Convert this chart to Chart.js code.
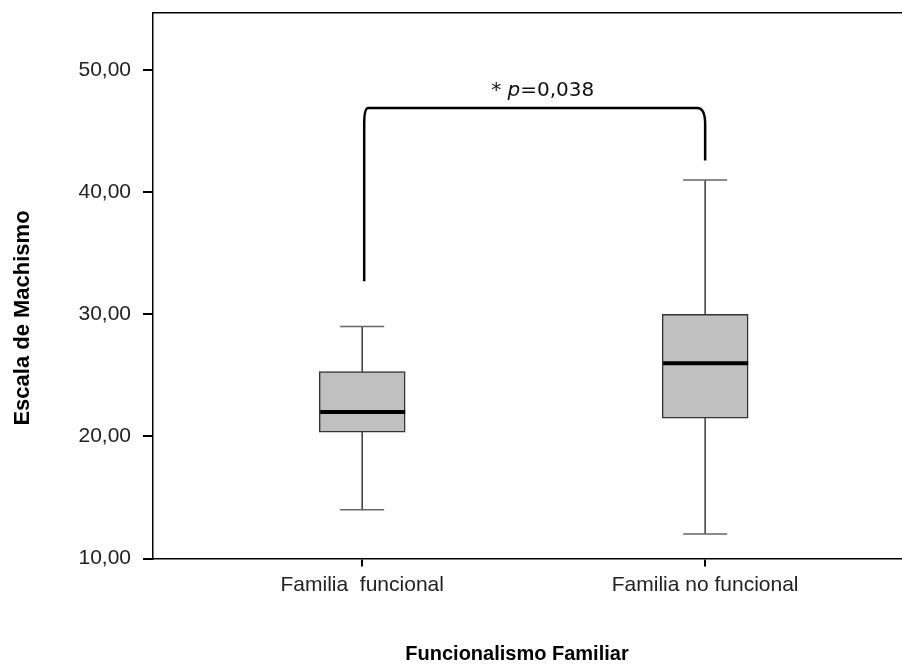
<!DOCTYPE html>
<html>
<head>
<meta charset="utf-8">
<script src="https://cdn.jsdelivr.net/npm/chart.js@4.4.1/dist/chart.umd.min.js"></script>
<style>html,body{margin:0;padding:0;background:#fff}</style>
</head>
<body>
<canvas id="chart" width="902" height="664"></canvas>
<script>
// datos del diagrama de caja
const categories = ['Familia  funcional', 'Familia no funcional'];
const positions = [1, 2];
const whiskerLow = [14.0, 12.0];
const q1 = [20.35, 21.5];
const median = [22.0, 26.0];
const q3 = [25.3, 30.0];
const whiskerHigh = [29.0, 41.0];
const yTicks = [10, 20, 30, 40, 50];

// corchete de significacion
const bracketTop = 46.9;
const bracketEnds = [32.7, 42.6];
const pParts = [['* ', 'normal'], ['p', 'italic'], ['=0,038', 'normal']];

const yTitle = 'Escala de Machismo';
const xTitle = 'Funcionalismo Familiar';

const boxExtras = {
  id: 'boxExtras',
  afterDatasetsDraw(chart) {
    const {ctx, chartArea, scales: {x, y}} = chart;
    ctx.save();

    // linea superior del marco
    ctx.strokeStyle = '#000';
    ctx.lineWidth = 1.5;
    ctx.beginPath();
    ctx.moveTo(chartArea.left, chartArea.top);
    ctx.lineTo(chartArea.right, chartArea.top);
    ctx.stroke();

    // bigotes y mediana
    const bars = chart.getDatasetMeta(0).data;
    positions.forEach((pos, i) => {
      const px = x.getPixelForValue(pos);
      const cap = 22;
      ctx.strokeStyle = '#3a3a3a';
      ctx.lineWidth = 1.5;
      ctx.beginPath();
      ctx.moveTo(px, y.getPixelForValue(q3[i]));
      ctx.lineTo(px, y.getPixelForValue(whiskerHigh[i]));
      ctx.moveTo(px, y.getPixelForValue(q1[i]));
      ctx.lineTo(px, y.getPixelForValue(whiskerLow[i]));
      ctx.stroke();
      ctx.strokeStyle = '#666';
      ctx.beginPath();
      ctx.moveTo(px - cap, y.getPixelForValue(whiskerHigh[i]));
      ctx.lineTo(px + cap, y.getPixelForValue(whiskerHigh[i]));
      ctx.moveTo(px - cap, y.getPixelForValue(whiskerLow[i]));
      ctx.lineTo(px + cap, y.getPixelForValue(whiskerLow[i]));
      ctx.stroke();

      const bar = bars[i];
      const ym = y.getPixelForValue(median[i]);
      ctx.strokeStyle = '#000';
      ctx.lineWidth = 4;
      ctx.beginPath();
      ctx.moveTo(bar.x - bar.width / 2 + 1, ym);
      ctx.lineTo(bar.x + bar.width / 2, ym);
      ctx.stroke();
    });

    // corchete
    const lx = x.getPixelForValue(positions[0]) + 2;
    const rx = x.getPixelForValue(positions[1]);
    const yT = y.getPixelForValue(bracketTop);
    const r = 8;
    ctx.strokeStyle = '#000';
    ctx.lineWidth = 2.5;
    ctx.beginPath();
    ctx.moveTo(lx, y.getPixelForValue(bracketEnds[0]));
    ctx.lineTo(lx, yT + r * 2);
    ctx.quadraticCurveTo(lx, yT, lx + r / 2, yT);
    ctx.lineTo(rx - r, yT);
    ctx.quadraticCurveTo(rx, yT, rx, yT + r * 2);
    ctx.lineTo(rx, y.getPixelForValue(bracketEnds[1]));
    ctx.stroke();

    // texto p
    const fontFor = st => st + ' 20px "DejaVu Sans", sans-serif';
    let total = 0;
    pParts.forEach(([t, st]) => { ctx.font = fontFor(st); total += ctx.measureText(t).width; });
    let tx = (lx + rx) / 2 + 8 - total / 2;
    ctx.fillStyle = '#111';
    ctx.textBaseline = 'alphabetic';
    ctx.textAlign = 'left';
    pParts.forEach(([t, st]) => {
      ctx.font = fontFor(st);
      ctx.fillText(t, tx, yT - 12);
      tx += ctx.measureText(t).width;
    });

    // titulos de ejes
    ctx.fillStyle = '#000';
    ctx.font = 'bold 22px "Liberation Sans", Arial, sans-serif';
    ctx.textAlign = 'center';
    ctx.textBaseline = 'middle';
    ctx.save();
    ctx.translate(23, 318);
    ctx.rotate(-Math.PI / 2);
    ctx.fillText(yTitle, 0, 0);
    ctx.restore();
    ctx.font = 'bold 20px "Liberation Sans", Arial, sans-serif';
    ctx.fillText(xTitle, 517, 654);

    ctx.restore();
  }
};

const ctx = document.getElementById('chart').getContext('2d');
const chart = new Chart(ctx, {
  type: 'bar',
  data: {
    datasets: [{
      data: positions.map((p, i) => ({x: p, y: [q1[i], q3[i]]})),
      backgroundColor: '#c0c0c0',
      borderColor: '#333',
      borderWidth: 1.5,
      borderSkipped: false,
      barThickness: 86
    }]
  },
  options: {
    responsive: false,
    animation: false,
    devicePixelRatio: 1,
    layout: {padding: {top: 12.7, right: 0, bottom: 0, left: 0}},
    plugins: {legend: {display: false}, tooltip: {enabled: false}},
    scales: {
      x: {
        type: 'linear',
        min: 0.39,
        max: 2.574,
        offset: false,
        afterBuildTicks: s => { s.ticks = positions.map(v => ({value: v})); },
        afterFit: s => { s.height = 105.5; s.paddingLeft = 0; s.paddingRight = 0; },
        ticks: {
          callback: (v, i) => categories[i],
          font: {family: '"Liberation Sans", Arial, sans-serif', size: 21},
          color: '#222',
          padding: 6,
          maxRotation: 0,
          autoSkip: false
        },
        grid: {offset: false, drawOnChartArea: false, drawTicks: true, tickLength: 8, color: '#000', lineWidth: 2},
        border: {color: '#000', width: 1.5}
      },
      y: {
        min: 10,
        max: 54.7,
        afterBuildTicks: s => { s.ticks = yTicks.map(v => ({value: v})); },
        afterFit: s => { s.width = 153; s.paddingTop = 0; s.paddingBottom = 0; },
        ticks: {
          callback: v => v.toFixed(2).replace('.', ','),
          font: {family: '"Liberation Sans", Arial, sans-serif', size: 21},
          color: '#222',
          padding: 12
        },
        grid: {drawOnChartArea: false, drawTicks: true, tickLength: 10, color: '#000', lineWidth: 2},
        border: {color: '#000', width: 1.5}
      }
    }
  },
  plugins: [boxExtras]
});
</script>
</body>
</html>
